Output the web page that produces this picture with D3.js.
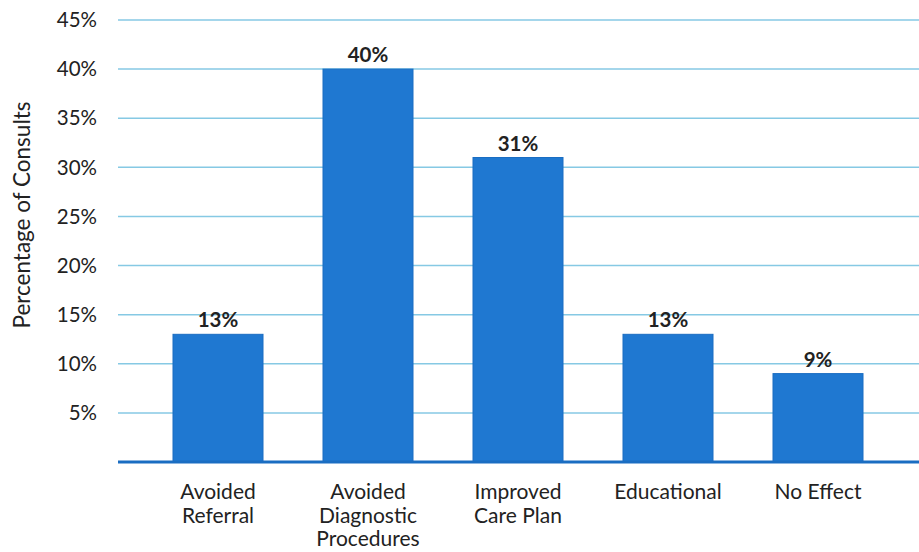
<!DOCTYPE html>
<html><head><meta charset="utf-8">
<script src="https://cdn.jsdelivr.net/npm/d3@7"></script>
<style>body{margin:0;background:#fff;}svg{display:block;font-family:Lato,"Open Sans",sans-serif;}</style>
</head><body><svg id="c" width="919" height="552"></svg>
<script>
const categories = [["Avoided","Referral"],["Avoided","Diagnostic","Procedures"],["Improved","Care Plan"],["Educational"],["No Effect"]];
const values = [13, 40, 31, 13, 9];
const valueLabels = ["13%","40%","31%","13%","9%"];
const yTicks = [5,10,15,20,25,30,35,40,45];
const yTickLabels = ["5%","10%","15%","20%","25%","30%","35%","40%","45%"];
const yTitle = "Percentage of Consults";

const svg = d3.select("#c");
const x = d3.scaleBand().domain(d3.range(values.length)).range([143, 893]).paddingInner(0.4).paddingOuter(0.2);
const y = d3.scaleLinear().domain([0, 45]).range([462, 20]);

svg.append("g").selectAll("line").data(yTicks).join("line")
  .attr("x1", 118).attr("x2", 919)
  .attr("y1", d => y(d)).attr("y2", d => y(d))
  .attr("stroke", "#86c9e4").attr("stroke-width", 1.5);

svg.append("g").selectAll("text").data(yTicks).join("text")
  .attr("x", 97).attr("y", d => y(d)).attr("dy", "0.35em")
  .attr("text-anchor", "end").attr("font-size", 20.5).attr("fill", "#222")
  .text((d,i) => yTickLabels[i]);

svg.append("text").attr("transform", "translate(30,215) rotate(-90)")
  .attr("text-anchor", "middle").attr("font-size", 22.5).attr("fill", "#222").text(yTitle);

const bw = 90;
svg.append("g").selectAll("rect").data(values).join("rect")
  .attr("x", (d,i) => x(i) + x.bandwidth()/2 - bw/2)
  .attr("width", bw)
  .attr("y", d => y(d)).attr("height", d => y(0) - y(d))
  .attr("fill", "#1f78d1").attr("stroke", "#1a6dc2").attr("stroke-width", 1);

svg.append("line").attr("x1", 118).attr("x2", 919).attr("y1", y(0)).attr("y2", y(0))
  .attr("stroke", "#1a6dc2").attr("stroke-width", 3);

svg.append("g").selectAll("text").data(values).join("text")
  .attr("x", (d,i) => x(i) + x.bandwidth()/2).attr("y", d => y(d) - 7)
  .attr("text-anchor", "middle").attr("font-size", 20.5).attr("font-weight", "bold").attr("fill", "#222")
  .text((d,i) => valueLabels[i]);

const cg = svg.append("g").selectAll("text").data(categories).join("text")
  .attr("x", (d,i) => x(i) + x.bandwidth()/2).attr("y", 499)
  .attr("text-anchor", "middle").attr("font-size", 21).attr("fill", "#222");
cg.each(function(d,i){
  d3.select(this).selectAll("tspan").data(d).join("tspan")
    .attr("x", x(i) + x.bandwidth()/2).attr("dy", (t,j) => j === 0 ? 0 : 23.5).text(t => t);
});
</script></body></html>
